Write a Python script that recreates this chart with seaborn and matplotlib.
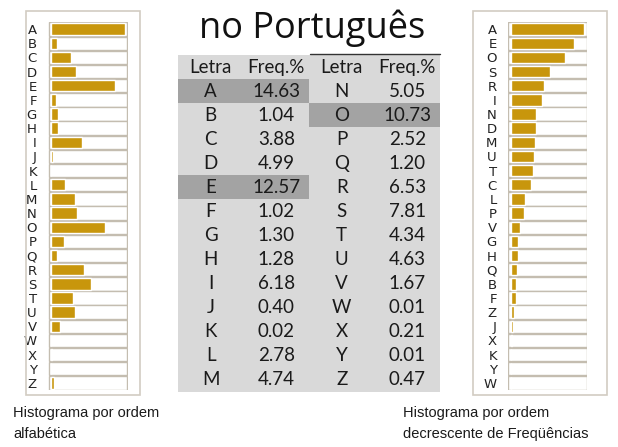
import numpy as np
import pandas as pd
import seaborn as sns
import matplotlib.pyplot as plt
from matplotlib.colors import ListedColormap
from matplotlib.patches import Rectangle
from matplotlib.lines import Line2D

# Letter frequencies in Portuguese (%)
letters = list("ABCDEFGHIJKLMNOPQRSTUVWXYZ")
freq = [14.63, 1.04, 3.88, 4.99, 12.57, 1.02, 1.30, 1.28, 6.18, 0.40, 0.02, 2.78, 4.74,
        5.05, 10.73, 2.52, 1.20, 6.53, 7.81, 4.34, 4.63, 1.67, 0.01, 0.21, 0.01, 0.47]
order_desc = list("AEOSRINDMUTCLPVGHQBFZJXKYW")
highlight = ["A", "E", "O"]
headers = ["Letra", "Freq.%", "Letra", "Freq.%"]

GOLD = "#c8960c"
BORDER = "#c4bdb0"
FRAME = "#d2ccc2"

sns.set_style("white")
plt.rcParams["font.family"] = ["DejaVu Sans"]

W, H = 618, 447
fig = plt.figure(figsize=(W / 100, H / 100), dpi=100)


def px_axes(x0, y0, x1, y1):
    return fig.add_axes([x0 / W, 1 - y1 / H, (x1 - x0) / W, (y1 - y0) / H])


def px_rect(x0, y0, x1, y1):
    fig.add_artist(Rectangle((x0 / W, 1 - y1 / H), (x1 - x0) / W, (y1 - y0) / H,
                             transform=fig.transFigure, fill=False,
                             edgecolor=FRAME, linewidth=1.2))


df = pd.DataFrame({"letra": letters, "freq": freq})


def histo(ax, order):
    sns.barplot(data=df, x="freq", y="letra", order=order, orient="h",
                color=GOLD, saturation=1, width=0.8, ax=ax)
    n = len(order)
    ax.barh(np.arange(n), 15.65, left=-0.55, height=0.95, color="white",
            edgecolor=BORDER, linewidth=1, zorder=0)
    ax.set_xlim(-0.65, 15.2)
    ax.set_ylim(n - 0.5, -0.5)
    ax.set_xticks([])
    ax.set_xlabel("")
    ax.set_ylabel("")
    ax.set_facecolor("none")
    ax.tick_params(axis="y", length=0, pad=8, labelsize=9.5, labelcolor="#222222")
    for lab in ax.get_yticklabels():
        lab.set_family(["Liberation Sans Narrow", "DejaVu Sans"])
    for s in ax.spines.values():
        s.set_visible(False)


# frames around the histograms
px_rect(26, 11, 140, 395)
px_rect(473, 11, 607, 395)

ax_left = px_axes(48, 22, 128, 390)
histo(ax_left, letters)

ax_right = px_axes(508, 22, 587, 390)
histo(ax_right, order_desc)

# table in the middle, drawn as a heatmap
half = 13
text = [headers]
shade = [[0, 0, 0, 0]]
for i in range(half):
    a, b = letters[i], letters[i + half]
    text.append([a, f"{freq[i]:.2f}", b, f"{freq[i + half]:.2f}"])
    da = 1 if a in highlight else 0
    db = 1 if b in highlight else 0
    shade.append([da, da, db, db])

ax_tab = px_axes(178, 55, 440, 392)
sns.heatmap(np.array(shade), annot=np.array(text), fmt="",
            cmap=ListedColormap(["#d9d9d9", "#a3a3a3"]), vmin=0, vmax=1,
            cbar=False, xticklabels=False, yticklabels=False, ax=ax_tab,
            annot_kws={"fontsize": 13.5, "color": "#1a1a1a", "family": "Lato"})
fig.add_artist(Line2D([310 / W, 440 / W], [1 - 54 / H, 1 - 54 / H],
                      transform=fig.transFigure, color="#333333", linewidth=1))

fig.text(312 / W, 1 - 38 / H, "no Português", ha="center", va="baseline",
         fontsize=26, family="Open Sans", color="#111111")

cap = dict(fontsize=10.5, family="Liberation Sans", color="#1a1a1a", va="baseline")
fig.text(13 / W, 1 - 417 / H, "Histograma por ordem", **cap)
fig.text(13 / W, 1 - 438 / H, "alfabética", **cap)
fig.text(403 / W, 1 - 417 / H, "Histograma por ordem", **cap)
fig.text(403 / W, 1 - 438 / H, "decrescente de Freqüências", **cap)

fig.savefig("out.png", dpi=100)
